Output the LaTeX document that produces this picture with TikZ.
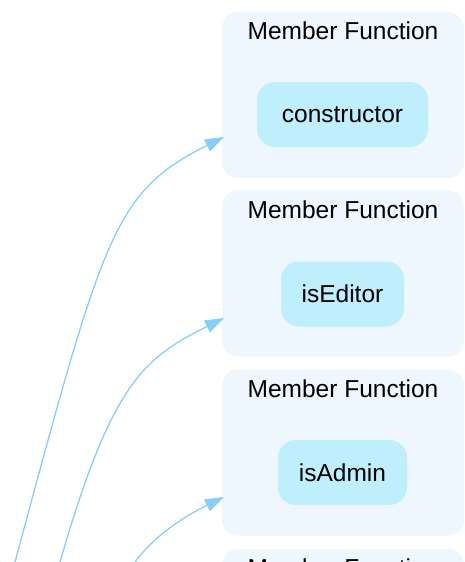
\documentclass[tikz,border=0pt]{standalone}
\usepackage{fontspec}
\setmainfont{Liberation Sans}
\usetikzlibrary{arrows.meta}
\definecolor{clusterfill}{HTML}{EEF6FE}
\definecolor{funcfill}{HTML}{BFEEFD}
\definecolor{edgecol}{HTML}{87CEFA}
\tikzset{
  cluster/.style={fill=clusterfill, draw=none, rounded corners=16pt,
    minimum width=242pt, minimum height=166pt, inner sep=0pt},
  title/.style={font=\fontsize{24.5}{29}\selectfont, anchor=center, inner sep=0pt},
  func/.style={fill=funcfill, draw=none, rounded corners=18pt,
    minimum height=65pt, inner sep=0pt, font=\fontsize{24.5}{29}\selectfont},
  link/.style={draw=edgecol, line width=1.3pt,
    -{Triangle[length=19pt,width=13pt]}},
}
\begin{document}
\begin{tikzpicture}[x=1pt,y=-1pt]
\useasboundingbox (0,0) rectangle (465,562);
\clip (0,0) rectangle (465,562);
% member-function clusters
\node[cluster] (c1) at (343,95) {};
\node[cluster] (c2) at (343,273.5) {};
\node[cluster] (c3) at (343,452.5) {};
\node[cluster] (c4) at (343,632) {};
\node[title] (t1) at (343,31) {Member Function};
\node[title] (t2) at (343,210) {Member Function};
\node[title] (t3) at (343,389) {Member Function};
\node[title] (t4) at (343,568) {Member Function};
% functions
\node[func, minimum width=171pt] (f1) at (342.5,114.5) {constructor};
\node[func, minimum width=123pt] (f2) at (342.5,294) {isEditor};
\node[func, minimum width=129pt] (f3) at (342.5,472.5) {isAdmin};
% edge end points
\coordinate (s1) at (15,562);
\coordinate (s2) at (60,562);
\coordinate (s3) at (135,562);
\coordinate (e1) at (224,137);
\coordinate (e2) at (224,318);
\coordinate (e3) at (224,497);
\draw[link] (s1) .. controls (104,232) and (114,192) .. (e1);
\draw[link] (s2) .. controls (112,382) and (144,358) .. (e2);
\draw[link] (s3) .. controls (155,535) and (185,516) .. (e3);
\end{tikzpicture}
\end{document}
